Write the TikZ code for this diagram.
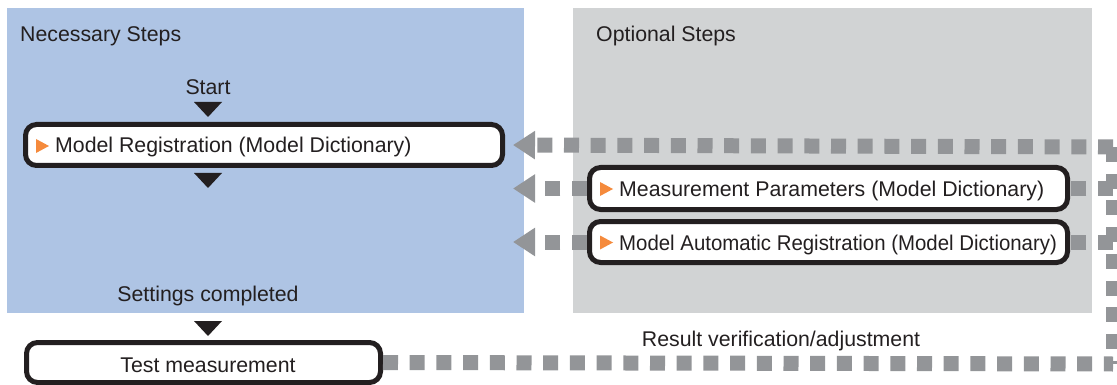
\documentclass[tikz,border=0pt]{standalone}
\usepackage{fontspec}
\usepackage{graphicx}
\setmainfont{Liberation Sans}
\usetikzlibrary{arrows.meta}
\definecolor{panelblue}{RGB}{174,196,228}
\definecolor{panelgray}{RGB}{209,211,212}
\definecolor{dashgray}{RGB}{147,149,152}
\definecolor{tri}{RGB}{245,138,60}
\definecolor{ink}{RGB}{35,31,32}
\begin{document}
\begin{tikzpicture}[x=1pt,y=-1pt,
  lbl/.style={font=\fontsize{21.3}{25}\selectfont, text=ink, inner sep=0pt},
  stepbox/.style={draw=ink, line width=5pt, rounded corners=11pt, fill=white, inner sep=0pt},
  dots/.style={draw=dashgray, line width=15pt, dash pattern=on 15pt off 11.7pt},
  arr/.style={dots, -{Triangle[length=22pt,width=27pt]}},
  downtri/.style={fill=ink},
  orangetri/.style={fill=tri}]
\useasboundingbox (0,0) rectangle (1117,385);
% panels
\fill[panelblue] (7,8) rectangle (524,313);
\fill[panelgray] (573,8) rectangle (1092,313);
% step boxes
\node[stepbox, minimum width=477pt, minimum height=41pt] (mr) at (264,145) {};
\node[stepbox, minimum width=478pt, minimum height=42pt] (mp) at (828.5,188.5) {};
\node[stepbox, minimum width=478pt, minimum height=41pt] (mar) at (828.5,242) {};
\node[stepbox, minimum width=354pt, minimum height=40pt] (test) at (203.5,362.5) {};
% connector coordinates
\coordinate (c1) at (1113,147);
\coordinate (c2) at (1113,188.5);
\coordinate (c3) at (1113,242);
\coordinate (c4) at (1113,364);
\coordinate (t2) at (513,188.5);
\coordinate (t3) at (513,242);
% dashed connectors
\draw[dots] (c1) -- (c4);
\draw[dots] (test.east) -- (c4);
\draw[arr, shorten >=8pt] (c1) -- (mr.east);
\draw[dots] (c2) -- (mp.east);
\draw[dots] (c3) -- (mar.east);
\draw[arr] (mp.west) -- (t2);
\draw[arr] (mar.west) -- (t3);
% texts
\node[lbl, anchor=base west] (nec) at (20,42) {Necessary Steps};
\node[lbl, anchor=base west] (opt) at (596,42) {Optional Steps};
\node[lbl, anchor=base] (start) at (208,95) {Start};
\node[lbl, anchor=base west] (mrt) at (55,153) {Model Registration (Model Dictionary)};
\node[lbl, anchor=base west] (mpt) at (619,196.5) {Measurement Parameters (Model Dictionary)};
\node[lbl, anchor=base west] (mart) at (619,250) {\scalebox{0.958}[1]{Model Automatic Registration (Model Dictionary)}};
\node[lbl, anchor=base] (done) at (208,301) {Settings completed};
\node[lbl, anchor=base] (testt) at (208,372) {Test measurement};
\node[lbl, anchor=base] (res) at (781,346) {Result verification/adjustment};
% down triangles
\coordinate (d1) at (208,102);
\coordinate (d2) at (208,173);
\coordinate (d3) at (208,321);
\foreach \d in {d1,d2,d3}
  \fill[downtri] (\d) ++(-14,0) -- ++(28,0) -- ++(-14,15) -- cycle;
% orange markers
\coordinate (o1) at (36,146);
\coordinate (o2) at (600,189);
\coordinate (o3) at (600,242.5);
\foreach \o in {o1,o2,o3}
  \fill[orangetri] (\o) ++(0,-7) -- ++(13,7) -- ++(-13,7) -- cycle;
\end{tikzpicture}
\end{document}
